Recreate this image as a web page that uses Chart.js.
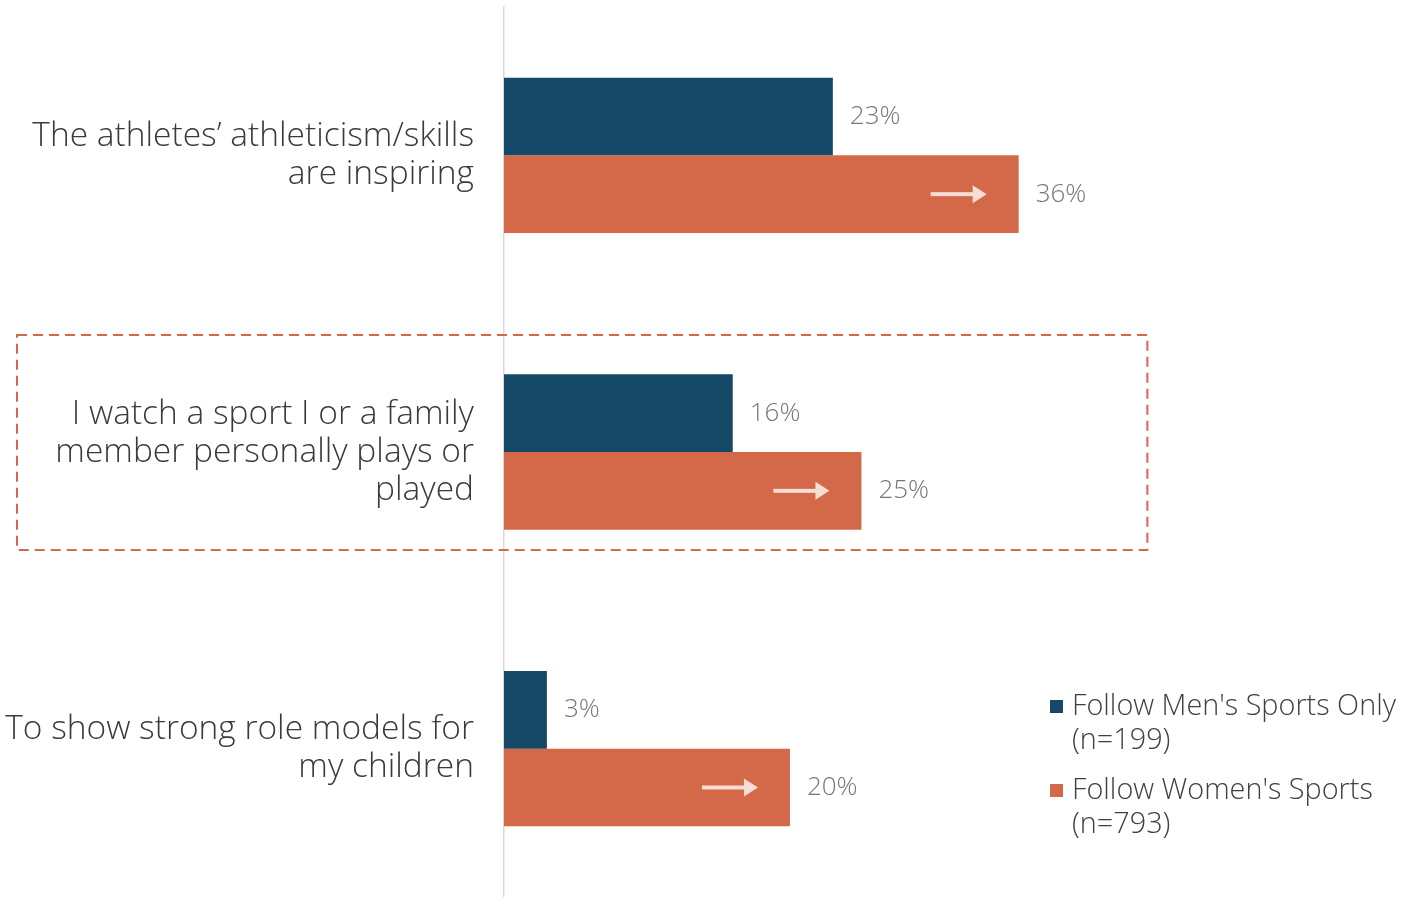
<!DOCTYPE html>
<html>
<head>
<meta charset="utf-8">
<script src="https://cdn.jsdelivr.net/npm/chart.js@4"></script>
<style>
  html, body { margin: 0; padding: 0; background: #fff; overflow: hidden; }
  #wrap { width: 1422px; height: 897px; }
</style>
</head>
<body>
<div id="wrap"><canvas id="chart" width="1422" height="897"></canvas></div>
<script>
const categories = [
    ["The athletes\u2019 athleticism/skills", "are inspiring"],
    ["I watch a sport I or a family", "member personally plays or", "played"],
    ["To show strong role models for", "my children"]
];
const seriesNames = ["Follow Men's Sports Only", "Follow Women's Sports"];
const seriesSizes = ["(n=199)", "(n=793)"];
const menValues = [23, 16, 3];
const womenValues = [36, 25, 20];
const highlighted = 1;

const navy = '#164868';
const orange = '#d4694a';
const fontFamily = "'Open Sans', 'DejaVu Sans', sans-serif";

// labels, arrows, dashed box and legend
const decor = {
    id: 'decor',
    afterDatasetsDraw(chart) {
        const ctx = chart.ctx;
        ctx.save();
        ctx.font = '300 26px ' + fontFamily;
        ctx.textBaseline = 'middle';
        chart.data.datasets.forEach((ds, di) => {
            chart.getDatasetMeta(di).data.forEach((bar, i) => {
                ctx.fillStyle = '#767676';
                ctx.fillText(ds.data[i] + '%', bar.x + 17, bar.y);
                if (di === 1) {
                    let tip = bar.x - 32;
                    ctx.fillStyle = '#f8ddd5';
                    ctx.fillRect(tip - 56, bar.y - 2, 44, 4);
                    ctx.beginPath();
                    ctx.moveTo(tip - 14, bar.y - 9);
                    ctx.lineTo(tip, bar.y);
                    ctx.lineTo(tip - 14, bar.y + 9);
                    ctx.closePath();
                    ctx.fill();
                }
            });
        });

        // dashed box around the highlighted category
        let c = chart.scales.y.getPixelForValue(highlighted);
        let right = chart.scales.x.getPixelForValue(45);
        ctx.strokeStyle = orange;
        ctx.lineWidth = 2;
        ctx.setLineDash([10, 6]);
        ctx.strokeRect(17, c - 117, right - 17, 215);
        ctx.setLineDash([]);

        // legend
        ctx.font = '300 28.8px ' + fontFamily;
        ctx.textBaseline = 'middle';
        chart.data.datasets.forEach((ds, di) => {
            let y = 707 + di * 84;
            ctx.fillStyle = ds.backgroundColor;
            ctx.fillRect(1050, y - 7, 13, 13);
            ctx.fillStyle = '#404040';
            ctx.fillText(seriesNames[di], 1072, y);
            ctx.fillText(seriesSizes[di], 1072, y + 34);
        });
        ctx.restore();
    }
};

new Chart(document.getElementById('chart'), {
    type: 'bar',
    data: {
        labels: categories,
        datasets: [
            { label: seriesNames[0], data: menValues, backgroundColor: navy },
            { label: seriesNames[1], data: womenValues, backgroundColor: orange }
        ]
    },
    options: {
        indexAxis: 'y',
        responsive: false,
        animation: false,
        layout: { padding: { top: 7, right: 3, bottom: -4, left: 0 } },
        datasets: { bar: { categoryPercentage: 0.5235, barPercentage: 1 } },
        plugins: { legend: { display: false }, tooltip: { enabled: false } },
        scales: {
            x: { display: false, min: 0, max: 64 },
            y: {
                grid: { display: false },
                border: { display: true, color: '#d9d9d9', width: 1.5 },
                ticks: {
                    color: '#3a3a3a',
                    padding: 22,
                    font: { family: fontFamily, size: 33.5, weight: '300', lineHeight: 1.134 }
                },
                afterFit(scale) {
                    scale.width = 504;
                    scale.paddingTop = 0;
                    scale.paddingBottom = 0;
                }
            }
        }
    },
    plugins: [decor]
});
</script>
</body>
</html>
